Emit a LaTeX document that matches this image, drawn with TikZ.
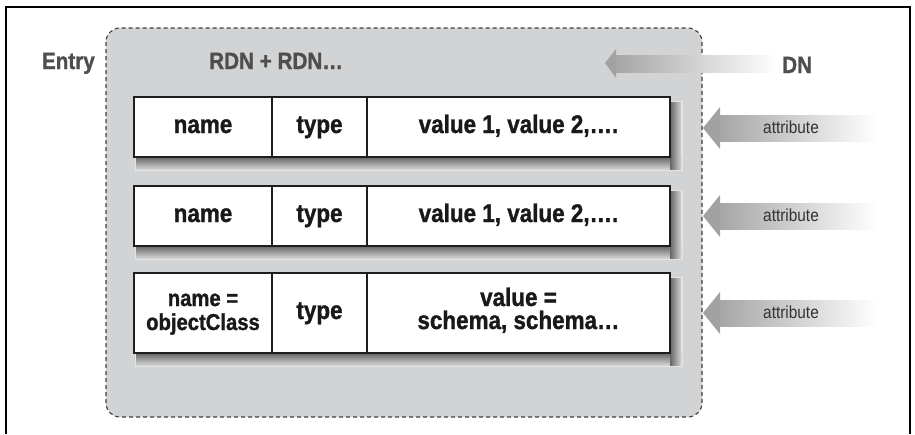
\documentclass[tikz,border=0pt]{standalone}
\usepackage{fontspec}
\setmainfont[FakeStretch=0.88, BoldFeatures={FakeBold=1.2}]{Liberation Sans}
\definecolor{boxgray}{HTML}{D2D3D4}
\definecolor{txtgray}{HTML}{4E4E4E}
\definecolor{cellline}{HTML}{1E1E1E}
\definecolor{shadowdark}{HTML}{666666}
\definecolor{shadowlight}{HTML}{E4E4E4}
\definecolor{arrgray}{HTML}{A6A6A6}
\definecolor{headgray}{HTML}{A2A2A2}
\newcommand\rowshadow[4]{%
  \fill[shadowlight] (#1+1,#2+4) rectangle (#3+13,#4+14);
  \shade[top color=shadowdark, bottom color=boxgray] (#1+2,#4) rectangle (#3+11,#4+12);
  \shade[left color=shadowdark, right color=boxgray] (#3,#2+5) rectangle (#3+11,#4+12);
}
\newcommand\attrarrow[2]{% name, center y
  \fill[headgray] (703,#2) -- (720,#2-21) -- (720,#2+21) -- cycle;
  \shade[left color=arrgray, right color=white] (720,#2-13) rectangle (877,#2+13);
  \coordinate (#1) at (703,#2);
}
\tikzset{
  cell/.style={draw=cellline, line width=2.6pt, fill=white, inner sep=0pt},
  celltxt/.style={font=\bfseries\fontsize{25.5}{30}\selectfont, text=black!90, inner sep=0pt, anchor=base},
  smalltxt/.style={font=\bfseries\fontsize{23}{27}\selectfont, text=black!90, inner sep=0pt, anchor=base},
  headtxt/.style={font=\bfseries\fontsize{23.5}{27}\selectfont, text=txtgray, inner sep=0pt},
  attrtxt/.style={font=\fontsize{17.5}{20}\selectfont, text=black!80, inner sep=0pt, anchor=base},
}
\begin{document}
\begin{tikzpicture}[x=1pt,y=-1pt]
\useasboundingbox (0,0) rectangle (915,434);
% outer frame
\draw[line width=2pt, line join=miter] (6,434) -- (6,7) -- (910,7) -- (910,434);
% entry box
\draw[fill=boxgray, draw=black!75, dash pattern=on 4pt off 3pt, line width=1.1pt, rounded corners=14pt]
  (106,28) rectangle (702,417);
% labels
\node[headtxt, anchor=base east] (entry) at (95,69) {Entry};
\node[headtxt, anchor=base west] (rdn) at (209,69) {RDN + RDN…};
% DN arrow
\fill[headgray] (605,63) -- (616,49) -- (616,78) -- cycle;
\shade[left color=arrgray, right color=white] (616,55) rectangle (778,72);
\coordinate (dntip) at (605,63);
\node[headtxt, anchor=base west] (dn) at (782,73) {DN};
% shadows
\rowshadow{134}{97}{670}{157}
\rowshadow{134}{186}{670}{246}
\rowshadow{134}{273}{670}{353}
% row 1
\node[cell, minimum width=138pt, minimum height=60pt] (r1a) at (203,127) {};
\node[cell, minimum width=95pt, minimum height=60pt] (r1b) at (319.5,127) {};
\node[cell, minimum width=303pt, minimum height=60pt] (r1c) at (518.5,127) {};
\node[celltxt] (t1a) at ([yshift=-6pt]r1a.center) {name};
\node[celltxt] (t1b) at ([yshift=-6pt]r1b.center) {type};
\node[celltxt] (t1c) at ([yshift=-6pt]r1c.center) {value 1, value 2,….};
% row 2
\node[cell, minimum width=138pt, minimum height=60pt] (r2a) at (203,216) {};
\node[cell, minimum width=95pt, minimum height=60pt] (r2b) at (319.5,216) {};
\node[cell, minimum width=303pt, minimum height=60pt] (r2c) at (518.5,216) {};
\node[celltxt] (t2a) at ([yshift=-6pt]r2a.center) {name};
\node[celltxt] (t2b) at ([yshift=-6pt]r2b.center) {type};
\node[celltxt] (t2c) at ([yshift=-6pt]r2c.center) {value 1, value 2,….};
% row 3
\node[cell, minimum width=138pt, minimum height=80pt] (r3a) at (203,313) {};
\node[cell, minimum width=95pt, minimum height=80pt] (r3b) at (319.5,313) {};
\node[cell, minimum width=303pt, minimum height=80pt] (r3c) at (518.5,313) {};
\node[smalltxt] (t3a1) at ([yshift=7pt]r3a.center) {name =};
\node[smalltxt] (t3a2) at ([yshift=-17pt]r3a.center) {objectClass};
\node[celltxt] (t3b) at ([yshift=-6pt]r3b.center) {type};
\node[celltxt] (t3c1) at ([yshift=7pt]r3c.center) {value =};
\node[celltxt] (t3c2) at ([yshift=-16pt]r3c.center) {schema, schema…};
% attribute arrows
\attrarrow{a1}{128}
\attrarrow{a2}{216}
\attrarrow{a3}{313}
\node[attrtxt] (at1) at (791,133) {attribute};
\node[attrtxt] (at2) at (791,221) {attribute};
\node[attrtxt] (at3) at (791,318) {attribute};
\end{tikzpicture}
\end{document}
